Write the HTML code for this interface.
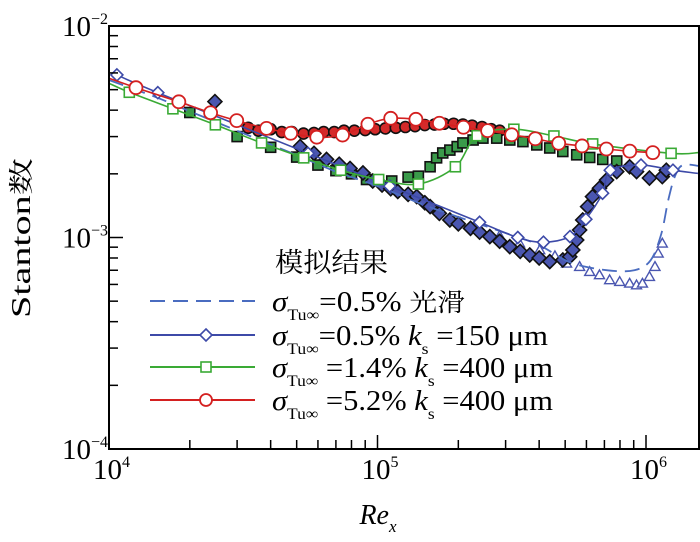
<!DOCTYPE html>
<html><head><meta charset="utf-8">
<style>
html,body{margin:0;padding:0;background:#fff;}
svg{display:block;font-family:"Liberation Serif","Noto Serif CJK SC",serif;}
</style></head>
<body>
<svg id="chart" width="700" height="542" viewBox="0 0 700 542" xmlns="http://www.w3.org/2000/svg">
<g id="plot"></g>
<g id="axes"></g>
<g id="legend">
 <text x="275" y="272" font-size="27" textLength="113" lengthAdjust="spacingAndGlyphs" font-family="'Noto Serif CJK SC','Noto Sans CJK SC',serif">模拟结果</text>
 <g>
  <line x1="150" y1="301" x2="255" y2="301" stroke="#4a6cc0" stroke-width="2" stroke-dasharray="15,8"/>
  <text x="272" y="311" font-size="28" textLength="193" lengthAdjust="spacingAndGlyphs"><tspan font-style="italic">σ</tspan><tspan font-size="16" dy="9">Tu∞</tspan><tspan dy="-9">=0.5% </tspan><tspan font-family="'Noto Serif CJK SC',serif" font-size="25">光滑</tspan></text>
 </g>
 <g>
  <line x1="150" y1="335" x2="255" y2="335" stroke="#3d4aa8" stroke-width="2"/>
  <path d="M206,329 L212,335 L206,341 L200,335 Z" fill="#fff" stroke="#3d4aa8" stroke-width="1.6"/>
  <text x="272" y="345" font-size="28" textLength="276" lengthAdjust="spacingAndGlyphs"><tspan font-style="italic">σ</tspan><tspan font-size="16" dy="9">Tu∞</tspan><tspan dy="-9">=0.5%  </tspan><tspan font-style="italic">k</tspan><tspan font-size="16" dy="9">s</tspan><tspan dy="-9"> =150 μm</tspan></text>
 </g>
 <g>
  <line x1="150" y1="367" x2="255" y2="367" stroke="#3aaa35" stroke-width="2"/>
  <rect x="201" y="362" width="10" height="10" fill="#fff" stroke="#3aaa35" stroke-width="1.6"/>
  <text x="272" y="377" font-size="28" textLength="281" lengthAdjust="spacingAndGlyphs"><tspan font-style="italic">σ</tspan><tspan font-size="16" dy="9">Tu∞</tspan><tspan dy="-9"> =1.4%  </tspan><tspan font-style="italic">k</tspan><tspan font-size="16" dy="9">s</tspan><tspan dy="-9"> =400 μm</tspan></text>
 </g>
 <g>
  <line x1="150" y1="400" x2="255" y2="400" stroke="#d42020" stroke-width="2"/>
  <circle cx="206" cy="400" r="6" fill="#fff" stroke="#d42020" stroke-width="1.8"/>
  <text x="272" y="410" font-size="28" textLength="281" lengthAdjust="spacingAndGlyphs"><tspan font-style="italic">σ</tspan><tspan font-size="16" dy="9">Tu∞</tspan><tspan dy="-9"> =5.2%  </tspan><tspan font-style="italic">k</tspan><tspan font-size="16" dy="9">s</tspan><tspan dy="-9"> =400 μm</tspan></text>
 </g>
</g>
<text transform="translate(30,238) rotate(-90)" text-anchor="middle" font-size="27" textLength="160" lengthAdjust="spacingAndGlyphs">Stanton<tspan font-family="'Noto Serif CJK SC',serif" font-size="25">数</tspan></text>
<text x="378" y="524" text-anchor="middle" font-size="28" font-style="italic">Re<tspan font-size="17" dy="8">x</tspan></text>
</svg>
<script>
// ---- data ----
const xTicks = [1e4, 1e5, 1e6];
const xTickLabels = ["4", "5", "6"];
const yTicks = [1e-4, 1e-3, 1e-2];
const yTickLabels = ["−4", "−3", "−2"];

const smoothRe = [1e4,1.5e4,2e4,3e4,5e4,7e4,1e5,1.5e5,2e5,3e5,4e5,5.25e5,7.19e5,9.04e5,1.04e6,1.14e6,1.21e6,1.28e6,1.37e6,1.57e6];
const smoothSt = [5.55e-3,4.6e-3,3.95e-3,3.2e-3,2.45e-3,2.05e-3,1.75e-3,1.42e-3,1.25e-3,1.05e-3,0.92e-3,0.76e-3,0.70e-3,0.70e-3,0.78e-3,1.04e-3,1.5e-3,1.94e-3,2.2e-3,2.18e-3];
const ks150Re = [1.07e4,1.52e4,5.51e4,1.11e5,2.40e5,3.33e5,4.15e5,5.21e5,5.97e5,6.89e5,7.36e5,9.58e5,1.26e6,1.56e6];
const ks150St = [5.87e-3,4.84e-3,2.50e-3,1.75e-3,1.18e-3,1.0e-3,0.95e-3,1.01e-3,1.22e-3,1.62e-3,2.08e-3,2.2e-3,2.08e-3,2.01e-3];
const g14Re = [1e4,1.19e4,1.73e4,2.49e4,3.70e4,5.31e4,7.29e4,1.01e5,1.42e5,1.95e5,2.35e5,3.22e5,4.54e5,6.33e5,1.24e6,1.57e6];
const g14St = [5.36e-3,4.86e-3,4.06e-3,3.41e-3,2.80e-3,2.38e-3,2.08e-3,1.88e-3,1.79e-3,2.16e-3,3.03e-3,3.25e-3,3.02e-3,2.77e-3,2.50e-3,2.52e-3];
const r52Re = [1e4,1.26e4,1.82e4,2.39e4,2.99e4,3.86e4,4.75e4,5.94e4,7.41e4,9.21e4,1.12e5,1.39e5,1.70e5,2.09e5,2.57e5,3.16e5,3.87e5,4.73e5,5.78e5,7.12e5,8.70e5,1.06e6];
const r52St = [5.66e-3,5.11e-3,4.38e-3,3.89e-3,3.57e-3,3.28e-3,3.11e-3,2.98e-3,3.05e-3,3.43e-3,3.66e-3,3.62e-3,3.47e-3,3.32e-3,3.20e-3,3.06e-3,2.93e-3,2.79e-3,2.71e-3,2.62e-3,2.56e-3,2.52e-3];

const expRedRe = [3.3e4,3.6e4,4e4,4.4e4,4.8e4,5.3e4,5.8e4,6.3e4,6.9e4,7.5e4,8.2e4,9e4,9.8e4,1.07e5,1.17e5,1.27e5,1.38e5,1.5e5,1.63e5,1.77e5,1.92e5,2.08e5,2.25e5,2.45e5,2.65e5,2.85e5];
const expRedSt = [3.3e-3,3.2e-3,3.25e-3,3.15e-3,3.15e-3,3.1e-3,3.12e-3,3.15e-3,3.15e-3,3.2e-3,3.2e-3,3.22e-3,3.25e-3,3.28e-3,3.3e-3,3.33e-3,3.36e-3,3.4e-3,3.42e-3,3.45e-3,3.45e-3,3.42e-3,3.38e-3,3.33e-3,3.25e-3,3.2e-3];
const expGreenRe = [2e4,3e4,4e4,5e4,6e4,7e4,8e4,9.1e4,1.13e5,1.3e5,1.42e5,1.57e5,1.66e5,1.75e5,1.86e5,1.98e5,2.08e5,2.27e5,2.47e5,2.78e5,3.11e5,3.48e5,3.92e5,4.38e5,4.9e5,5.52e5,6.17e5,6.9e5,7.78e5];
const expGreenSt = [3.9e-3,3.0e-3,2.67e-3,2.4e-3,2.2e-3,2.07e-3,2.0e-3,1.88e-3,1.85e-3,1.93e-3,1.95e-3,2.16e-3,2.38e-3,2.51e-3,2.59e-3,2.69e-3,2.80e-3,2.89e-3,2.95e-3,2.95e-3,2.89e-3,2.84e-3,2.74e-3,2.65e-3,2.55e-3,2.46e-3,2.39e-3,2.34e-3,2.30e-3];
const expBlueRe = [2.48e4,5.15e4,5.8e4,6.46e4,7.2e4,7.9e4,8.83e4,9.6e4,1.04e5,1.12e5,1.19e5,1.3e5,1.4e5,1.5e5,1.57e5,1.7e5,1.86e5,2.0e5,2.22e5,2.4e5,2.62e5,2.85e5,3.11e5,3.4e5,3.69e5,4.0e5,4.38e5,4.9e5,5.2e5,5.34e5,5.52e5,5.66e5,5.81e5,6.06e5,6.32e5,6.71e5,7.13e5,7.78e5,8.69e5,9.22e5,1.03e6,1.15e6,1.19e6];
const expBlueSt = [4.39e-3,2.69e-3,2.5e-3,2.34e-3,2.22e-3,2.12e-3,2.02e-3,1.85e-3,1.77e-3,1.7e-3,1.65e-3,1.6e-3,1.56e-3,1.46e-3,1.40e-3,1.3e-3,1.21e-3,1.16e-3,1.105e-3,1.06e-3,1.01e-3,0.96e-3,0.905e-3,0.86e-3,0.827e-3,0.8e-3,0.769e-3,0.783e-3,0.811e-3,0.873e-3,0.973e-3,1.085e-3,1.21e-3,1.40e-3,1.56e-3,1.71e-3,1.87e-3,2.05e-3,2.16e-3,2.05e-3,1.91e-3,1.94e-3,2.08e-3];
const expTriRe = [2.03e5,2.39e5,2.85e5,3.38e5,4.02e5,4.58e5,5.06e5,5.66e5,6.17e5,6.71e5,7.32e5,7.98e5,8.69e5,9.22e5,9.7e5,1.03e6,1.08e6,1.11e6,1.15e6];
const expTriSt = [1.18e-3,1.10e-3,1.02e-3,0.94e-3,0.873e-3,0.818e-3,0.755e-3,0.728e-3,0.689e-3,0.665e-3,0.63e-3,0.618e-3,0.607e-3,0.596e-3,0.607e-3,0.653e-3,0.728e-3,0.842e-3,0.939e-3];

// ---- axes ----
const L=109, R=699, T=26, B=449;
const xMin=4, xDec=268.5, yMax=-2, yDec=211.5;
function xs(v){return L + (Math.log10(v)-xMin)*xDec;}
function ys(v){return T + (yMax-Math.log10(v))*yDec;}

const NS="http://www.w3.org/2000/svg";
function mk(tag, attrs, parent){const e=document.createElementNS(NS,tag);for(const k in attrs)e.setAttribute(k,attrs[k]);parent.appendChild(e);return e;}
const plot=document.getElementById('plot'), axes=document.getElementById('axes');

const defs=mk('defs',{},plot);
const cp=mk('clipPath',{id:'clip'},defs);
mk('rect',{x:L,y:T,width:R-L,height:B-T},cp);
const pg=mk('g',{'clip-path':'url(#clip)'},plot);

function smoothPath(re, st){
  const p=re.map((v,i)=>[xs(v),ys(st[i])]);
  let d='M'+p[0][0].toFixed(1)+','+p[0][1].toFixed(1);
  for(let i=0;i<p.length-1;i++){
    const p0=p[Math.max(0,i-1)],p1=p[i],p2=p[i+1],p3=p[Math.min(p.length-1,i+2)];
    const c1=[p1[0]+(p2[0]-p0[0])/6,p1[1]+(p2[1]-p0[1])/6];
    const c2=[p2[0]-(p3[0]-p1[0])/6,p2[1]-(p3[1]-p1[1])/6];
    d+=' C'+c1.map(n=>n.toFixed(1)).join(',')+' '+c2.map(n=>n.toFixed(1)).join(',')+' '+p2[0].toFixed(1)+','+p2[1].toFixed(1);
  }
  return d;
}
function diamond(cx,cy,r){return `M${cx},${cy-r} L${cx+r},${cy} L${cx},${cy+r} L${cx-r},${cy} Z`;}
function tri(cx,cy,r){return `M${cx},${cy-r} L${cx+r},${cy+r*0.75} L${cx-r},${cy+r*0.75} Z`;}

const gRed=mk('g',{},pg);


expRedRe.forEach((v,i)=>{const c=mk('circle',{cx:xs(v),cy:ys(expRedSt[i]),r:5.5,fill:'#d42a2a',stroke:'#111','stroke-width':1.6},gRed);

});
const gGreen=mk('g',{},pg);


expGreenRe.forEach((v,i)=>{const x=xs(v),y=ys(expGreenSt[i]);const c=mk('rect',{x:x-5,y:y-5,width:10,height:10,fill:'#3a9a4a',stroke:'#111','stroke-width':1.6},gGreen);

});
const gTri=mk('g',{},pg);


expTriRe.forEach((v,i)=>{const c=mk('path',{d:tri(xs(v),ys(expTriSt[i]),5),fill:'#fff',stroke:'#4a56b0','stroke-width':1.4},gTri);

});
const gBlue=mk('g',{},pg);


expBlueRe.forEach((v,i)=>{const c=mk('path',{d:diamond(xs(v),ys(expBlueSt[i]),7),fill:'#4a56b0',stroke:'#111','stroke-width':1.6},gBlue);

});

const lDash=mk('path',{d:smoothPath(smoothRe,smoothSt),fill:'none',stroke:'#4a6cc0','stroke-width':1.8,'stroke-dasharray':'15,8'},pg);



const lBlue=mk('path',{d:smoothPath(ks150Re,ks150St),fill:'none',stroke:'#3d4aa8','stroke-width':1.6},pg);


ks150Re.forEach((v,i)=>{if(i===ks150Re.length-1)return;const c=mk('path',{d:diamond(xs(v),ys(ks150St[i]),6),fill:'#fff',stroke:'#3d4aa8','stroke-width':1.6},pg);

});

const lGreen=mk('path',{d:smoothPath(g14Re,g14St),fill:'none',stroke:'#3aaa35','stroke-width':1.6},pg);


g14Re.forEach((v,i)=>{if(i===0||i===g14Re.length-1)return;const x=xs(v),y=ys(g14St[i]);const c=mk('rect',{x:x-5,y:y-5,width:10,height:10,fill:'#fff',stroke:'#3aaa35','stroke-width':1.6},pg);

});

const lRed=mk('path',{d:smoothPath(r52Re,r52St),fill:'none',stroke:'#d42020','stroke-width':1.6},pg);


r52Re.forEach((v,i)=>{if(i===0)return;const c=mk('circle',{cx:xs(v),cy:ys(r52St[i]),r:6.5,fill:'#fff',stroke:'#d42020','stroke-width':1.8},pg);

});

const fr=mk('rect',{x:L,y:T,width:R-L,height:B-T,fill:'none',stroke:'#000','stroke-width':2},axes);



for(let d=4; d<=6; d++){
  for(let m=1;m<=9;m++){
    const v=m*Math.pow(10,d); const x=xs(v); if(x>R-1)continue;
    const len=m===1?14:9;
    const t=mk('line',{x1:x,y1:B,x2:x,y2:B-len,stroke:'#000','stroke-width':1.5},axes);
    
    
  }
}
xTicks.forEach((v,i)=>{const t=mk('text',{x:xs(v)-16,y:479,'font-size':29},axes);t.textContent='10';
 const s=mk('tspan',{'font-size':16,dy:-12},t); s.textContent=xTickLabels[i];
 
 });
for(let d=-4; d<=-3; d++){
  for(let m=1;m<=9;m++){
    const v=m*Math.pow(10,d); const y=ys(v);
    const len=m===1?14:9;
    const t=mk('line',{x1:L,y1:y,x2:L+len,y2:y,stroke:'#000','stroke-width':1.5},axes);
    
    
  }
}
yTicks.forEach((v,i)=>{const t=mk('text',{x:62,y:ys(v)+10,'font-size':29},axes);t.textContent='10';
 const s=mk('tspan',{'font-size':16,dy:-12},t); s.textContent=yTickLabels[i];
 
 });
</script>
</body></html>
